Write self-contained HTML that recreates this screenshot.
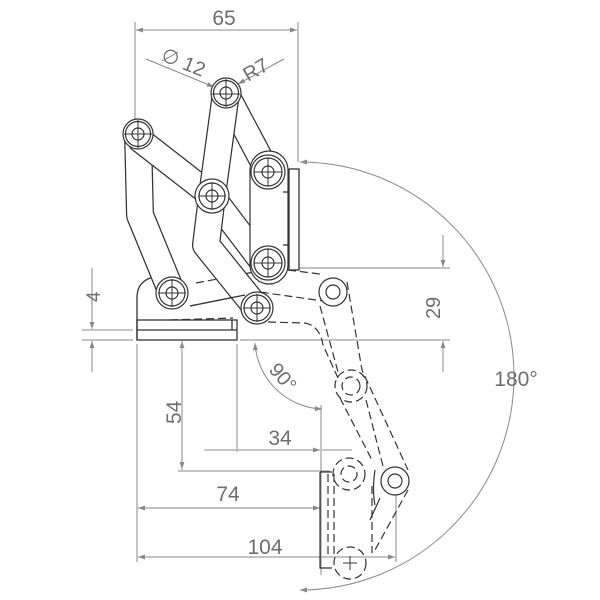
<!DOCTYPE html>
<html><head><style>html,body{margin:0;padding:0;background:#fff}svg{display:block}</style></head>
<body>
<svg width="600" height="600" viewBox="0 0 600 600" xmlns="http://www.w3.org/2000/svg">
<defs>
<marker id="ar" viewBox="0 0 10 10" refX="10" refY="5" markerWidth="14" markerHeight="7" orient="auto-start-reverse" markerUnits="userSpaceOnUse"><path d="M0,1.5 L10,5 L0,8.5 Z" fill="#888"/></marker>
</defs>
<g fill="none" stroke="#888" stroke-width="1">
  <line x1="135" y1="22" x2="135" y2="120"/>
  <line x1="298" y1="22" x2="298" y2="162"/>
  <line x1="136" y1="30" x2="297" y2="30" marker-start="url(#ar)" marker-end="url(#ar)"/>
  <line x1="146" y1="59" x2="214" y2="87" marker-end="url(#ar)"/>
  <line x1="284" y1="59" x2="238" y2="84" marker-end="url(#ar)"/>
  <path d="M300,162 A214,214 0 0 1 300,590" marker-start="url(#ar)" marker-end="url(#ar)"/>
  <line x1="82" y1="330" x2="133" y2="330"/>
  <line x1="82" y1="340" x2="133" y2="340"/>
  <line x1="92" y1="268" x2="92" y2="329" marker-end="url(#ar)"/>
  <line x1="92" y1="372" x2="92" y2="341" marker-end="url(#ar)"/>
  <line x1="292" y1="268" x2="450" y2="268"/>
  <line x1="240" y1="340" x2="450" y2="340"/>
  <line x1="443" y1="235" x2="443" y2="267" marker-end="url(#ar)"/>
  <line x1="443" y1="372" x2="443" y2="341" marker-end="url(#ar)"/>
  <line x1="137" y1="344" x2="137" y2="562"/>
  <line x1="237" y1="344" x2="237" y2="452"/>
  <line x1="182" y1="341" x2="182" y2="470" marker-start="url(#ar)"/>
  <line x1="182" y1="341" x2="182" y2="469" marker-end="url(#ar)"/>
  <line x1="178" y1="471" x2="330" y2="471"/>
  <path d="M255,343 A70,70 0 0 0 322,409" marker-start="url(#ar)" marker-end="url(#ar)"/>
  <line x1="321" y1="405" x2="321" y2="575"/>
  <line x1="204" y1="450" x2="236" y2="450" />
  <line x1="237" y1="450" x2="320" y2="450" marker-end="url(#ar)"/>
  <line x1="322" y1="450" x2="352" y2="450"/>
  <line x1="138" y1="508" x2="320" y2="508" marker-start="url(#ar)" marker-end="url(#ar)"/>
  <line x1="396" y1="488" x2="396" y2="562"/>
  <line x1="138" y1="557" x2="395" y2="557" marker-start="url(#ar)" marker-end="url(#ar)"/>
</g>
<g font-family="Liberation Sans, sans-serif" fill="#6e6e6e" font-size="21">
  <text x="224" y="25" text-anchor="middle">65</text>
  <text x="0" y="0" transform="translate(160,60) rotate(22)" font-size="20">∅ 12</text>
  <text x="0" y="0" transform="translate(248,82) rotate(-30)" font-size="20">R7</text>
  <text x="0" y="0" transform="translate(100,302) rotate(-90)" font-size="19">4</text>
  <text x="0" y="0" transform="translate(440,319) rotate(-90)" font-size="20">29</text>
  <text x="0" y="0" transform="translate(181,424) rotate(-90)" font-size="21">54</text>
  <text x="0" y="0" transform="translate(268,370) rotate(50)" font-size="20">90°</text>
  <text x="280" y="445" text-anchor="middle">34</text>
  <text x="228" y="501" text-anchor="middle">74</text>
  <text x="265" y="554" text-anchor="middle">104</text>
  <text x="516" y="386" text-anchor="middle">180°</text>
</g>

<g fill="none" stroke="#333" stroke-width="1.2" stroke-dasharray="8,4">
  <path d="M196,283 L265,270 L290,270"/>
  <path d="M190,306 L260,292 L330,302"/>
  <path d="M268,322 L305,323 Q320,326 323,345 L338,378"/>
  <path d="M288,270 L320,274"/>
  <path d="M347,282 L362,370 L408,470"/>
  <path d="M320,306 L338,372"/>
  <path d="M340,398 L373,462"/>
  <path d="M366,400 L384,470"/>
  <path d="M328,474 L328,556"/>
  <path d="M334,474 L334,556"/>
  <path d="M372,486 L372,553"/>
  <path d="M408,490 L375,550"/>
  <circle cx="351" cy="386" r="9"/>
  <circle cx="351" cy="386" r="16"/>
  <circle cx="349" cy="474" r="8"/>
  <circle cx="349" cy="474" r="16"/>
  <circle cx="350" cy="563" r="16"/>
</g>
<g fill="none" stroke="#333" stroke-width="1.2">
  <path d="M320,472 L320,568 L332,568"/>
  <path d="M320,472 L332,472"/>
  <path d="M375,470 Q372,490 375,505"/>
  <path d="M370,520 L380,498"/>
</g>

<!-- base plate (behind links) -->
<g fill="#fff" stroke="#333" stroke-width="1.3">
  <path d="M137,340 L137,298 Q137,277 162,276 L180,276 L180,320 L237,320 L237,340 Z" stroke="none"/>
  <path d="M137,340 L137,298 Q137,277 162,276 L180,276" fill="none"/>
  <rect x="137" y="320" width="100" height="20" fill="none"/>
  <line x1="137" y1="330" x2="237" y2="330"/>
  <line x1="232" y1="320" x2="232" y2="330"/>
</g>

<g fill="none" stroke-linecap="round" stroke-linejoin="round">
  <path d="M138,134 L140,215 L172,293" stroke="#333" stroke-width="28"/>
  <path d="M138,134 L140,215 L172,293" stroke="#fff" stroke-width="25.5"/>
  <path d="M140,140 L212,196" stroke="#333" stroke-width="26"/>
  <path d="M140,140 L212,196" stroke="#fff" stroke-width="23.5"/>
  <path d="M226,93 L268,172" stroke="#333" stroke-width="26"/>
  <path d="M226,93 L268,172" stroke="#fff" stroke-width="23.5"/>
  <path d="M212,196 L262,262" stroke="#333" stroke-width="26"/>
  <path d="M212,196 L262,262" stroke="#fff" stroke-width="23.5"/>
  <path d="M226,93 L212,196 L206,245 L256,307" stroke="#333" stroke-width="28"/>
  <path d="M226,93 L212,196 L206,245 L256,307" stroke="#fff" stroke-width="25.5"/>
  <rect x="250" y="151" width="38" height="133" rx="19" stroke="#333" stroke-width="1.2" fill="#fff"/>
</g>
<g fill="#fff" stroke="#333" stroke-width="1.3">
  <rect x="289" y="169" width="10" height="101"/>
  <line x1="283" y1="192" x2="289" y2="192"/>
  <line x1="283" y1="245" x2="289" y2="245"/>
</g>
<g fill="none" stroke="#333" stroke-width="1.2">
  <path d="M190,306 L245,295"/>
  <path d="M170,320 L233,318" stroke-dasharray="8,4"/>
</g>
<g fill="#fff" stroke="#333" stroke-width="1.2">
  <circle cx="138" cy="134" r="15"/><circle cx="138" cy="134" r="12.5"/><circle cx="138" cy="134" r="6"/>
  <circle cx="226" cy="93" r="15"/><circle cx="226" cy="93" r="12.5"/><circle cx="226" cy="93" r="6"/>
  <circle cx="212" cy="196" r="17"/><circle cx="212" cy="196" r="13"/><circle cx="212" cy="196" r="6"/>
  <circle cx="268" cy="172" r="17"/><circle cx="268" cy="172" r="14"/><circle cx="268" cy="172" r="6"/>
  <circle cx="268" cy="263" r="17" fill="none"/><circle cx="268" cy="263" r="14"/><circle cx="268" cy="263" r="6"/>
  <circle cx="172" cy="293" r="16"/><circle cx="172" cy="293" r="13"/><circle cx="172" cy="293" r="6"/>
  <circle cx="257" cy="308" r="16"/><circle cx="257" cy="308" r="13"/><circle cx="257" cy="308" r="6"/>
  <circle cx="333" cy="292" r="14"/><circle cx="333" cy="292" r="7"/>
  <circle cx="395" cy="481" r="14"/><circle cx="395" cy="481" r="7"/>
</g>
<g stroke="#333" stroke-width="1">
  <path d="M124,134h28M138,120v28 M212,94h28M226,79v28 M198,196h28M212,182v28 M254,172h28M268,158v28 M254,263h28M268,249v28 M158,293h28M172,279v28 M243,308h28M257,294v28"/>
  <path d="M343,563h14M350,556v14"/>
</g>
</svg>
</body></html>
